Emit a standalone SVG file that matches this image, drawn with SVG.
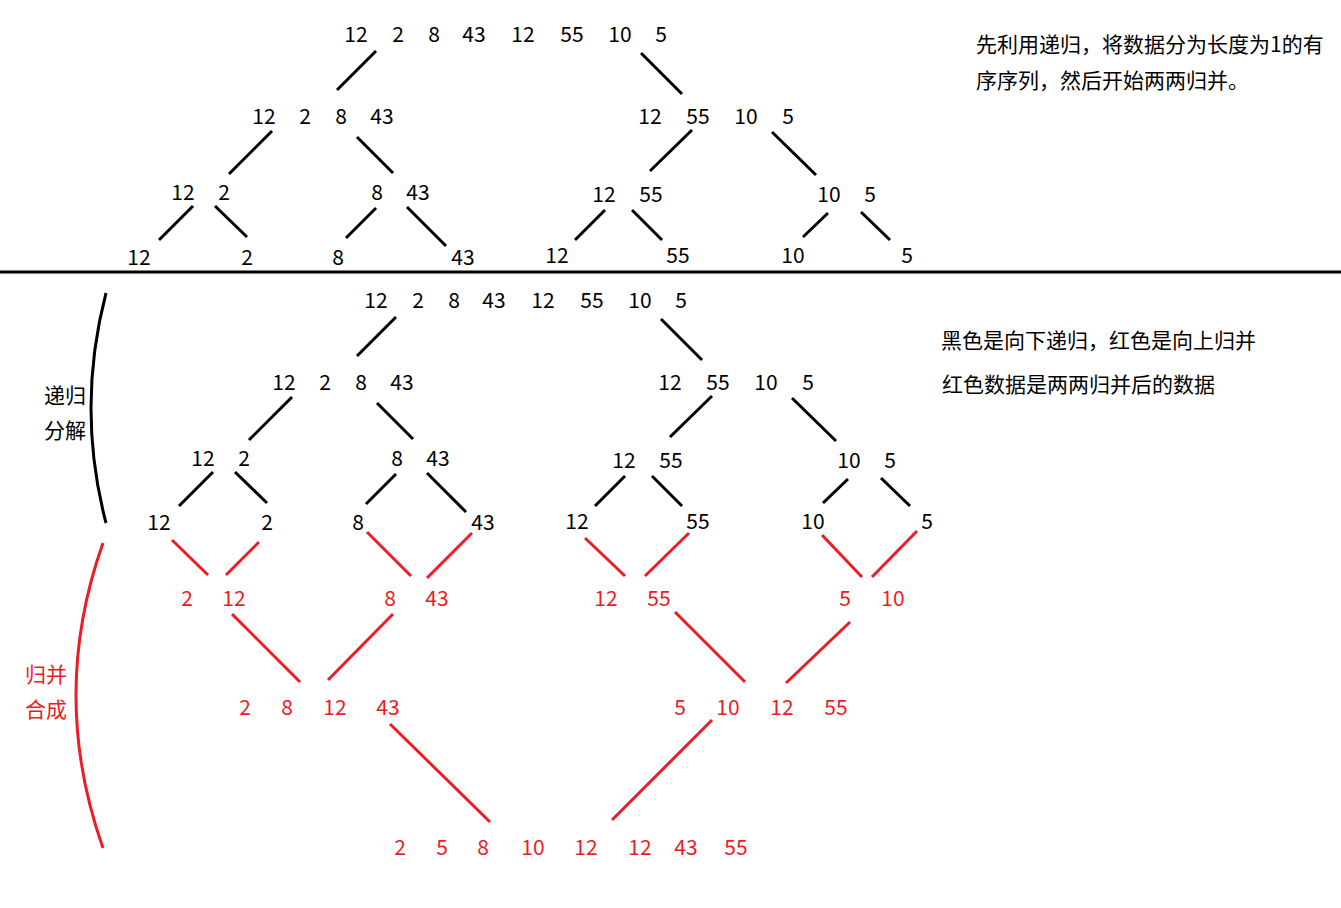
<svg xmlns="http://www.w3.org/2000/svg" width="1341" height="908" viewBox="0 0 1341 908">
<style>
text{font-family:"Noto Sans CJK SC","Noto Sans",sans-serif;font-size:21px}
.n text{text-anchor:middle}
.k{fill:#000}
.r{fill:#ED1C24}
.lk{stroke:#000;stroke-width:3;fill:none}
.lr{stroke:#ED1C24;stroke-width:3;fill:none}
</style>
<rect width="1341" height="908" fill="#fff"/>
<g id="connectors">
<line class="lk" x1="0" y1="272" x2="1341" y2="272"/>
<!-- top tree -->
<line class="lk" x1="376" y1="51" x2="337" y2="90"/>
<line class="lk" x1="641" y1="53" x2="682" y2="94"/>
<line class="lk" x1="272" y1="131" x2="229" y2="174"/>
<line class="lk" x1="357" y1="137" x2="393" y2="173"/>
<line class="lk" x1="692" y1="130" x2="650" y2="171"/>
<line class="lk" x1="772" y1="132" x2="816" y2="175"/>
<line class="lk" x1="193" y1="206" x2="159" y2="240"/>
<line class="lk" x1="215" y1="206" x2="247" y2="237"/>
<line class="lk" x1="376" y1="208" x2="346" y2="238"/>
<line class="lk" x1="407" y1="207" x2="446" y2="246"/>
<line class="lk" x1="605" y1="210" x2="575" y2="240"/>
<line class="lk" x1="632" y1="210" x2="662" y2="240"/>
<line class="lk" x1="828" y1="213" x2="803" y2="237"/>
<line class="lk" x1="861" y1="212" x2="890" y2="240"/>
<!-- lower black tree -->
<line class="lk" x1="396" y1="317" x2="357" y2="356"/>
<line class="lk" x1="661" y1="319" x2="702" y2="360"/>
<line class="lk" x1="292" y1="397" x2="249" y2="440"/>
<line class="lk" x1="377" y1="403" x2="413" y2="439"/>
<line class="lk" x1="712" y1="396" x2="670" y2="437"/>
<line class="lk" x1="792" y1="398" x2="836" y2="441"/>
<line class="lk" x1="213" y1="472" x2="179" y2="506"/>
<line class="lk" x1="235" y1="472" x2="267" y2="503"/>
<line class="lk" x1="396" y1="474" x2="366" y2="504"/>
<line class="lk" x1="427" y1="473" x2="466" y2="512"/>
<line class="lk" x1="625" y1="476" x2="595" y2="506"/>
<line class="lk" x1="652" y1="476" x2="682" y2="506"/>
<line class="lk" x1="848" y1="479" x2="823" y2="503"/>
<line class="lk" x1="881" y1="478" x2="910" y2="506"/>
<!-- red merge -->
<line class="lr" x1="172" y1="540" x2="208" y2="575"/>
<line class="lr" x1="259" y1="542" x2="226" y2="575"/>
<line class="lr" x1="367" y1="532" x2="411" y2="576"/>
<line class="lr" x1="472" y1="533" x2="427" y2="578"/>
<line class="lr" x1="585" y1="538" x2="625" y2="576"/>
<line class="lr" x1="689" y1="533" x2="645" y2="576"/>
<line class="lr" x1="822" y1="535" x2="862" y2="577"/>
<line class="lr" x1="917" y1="531" x2="872" y2="577"/>
<line class="lr" x1="232" y1="614" x2="300" y2="682"/>
<line class="lr" x1="393" y1="614" x2="328" y2="680"/>
<line class="lr" x1="675" y1="612" x2="745" y2="682"/>
<line class="lr" x1="850" y1="622" x2="786" y2="683"/>
<line class="lr" x1="390" y1="724" x2="490" y2="822"/>
<line class="lr" x1="712" y1="720" x2="612" y2="820"/>
<!-- braces -->
<path class="lk" d="M106,293 Q76,408 106,523"/>
<path class="lr" d="M103,543 Q49,695 103,848"/>
</g>
<g id="top-l1" class="n k"><text x="356" y="42">12</text><text x="398" y="42">2</text><text x="434" y="42">8</text><text x="474" y="42">43</text><text x="523" y="42">12</text><text x="572" y="42">55</text><text x="620" y="42">10</text><text x="661" y="42">5</text></g>
<g id="top-l2a" class="n k"><text x="264" y="124">12</text><text x="305" y="124">2</text><text x="341" y="124">8</text><text x="382" y="124">43</text></g>
<g id="top-l2b" class="n k"><text x="650" y="124">12</text><text x="698" y="124">55</text><text x="746" y="124">10</text><text x="788" y="124">5</text></g>
<g id="top-l3" class="n k"><text x="183" y="200">12</text><text x="224" y="200">2</text><text x="377" y="200">8</text><text x="418" y="200">43</text><text x="604" y="202">12</text><text x="651" y="202">55</text><text x="829" y="202">10</text><text x="870" y="202">5</text></g>
<g id="top-l4" class="n k"><text x="139" y="265">12</text><text x="247" y="265">2</text><text x="338" y="265">8</text><text x="463" y="265">43</text><text x="557" y="263">12</text><text x="678" y="263">55</text><text x="793" y="263">10</text><text x="907" y="263">5</text></g>
<g id="note1" class="k"><text x="976" y="52">先利用递归，将数据分为长度为1的有</text><text x="976" y="88">序序列，然后开始两两归并。</text></g>
<g id="low-l1" class="n k"><text x="376" y="308">12</text><text x="418" y="308">2</text><text x="454" y="308">8</text><text x="494" y="308">43</text><text x="543" y="308">12</text><text x="592" y="308">55</text><text x="640" y="308">10</text><text x="681" y="308">5</text></g>
<g id="low-l2a" class="n k"><text x="284" y="390">12</text><text x="325" y="390">2</text><text x="361" y="390">8</text><text x="402" y="390">43</text></g>
<g id="low-l2b" class="n k"><text x="670" y="390">12</text><text x="718" y="390">55</text><text x="766" y="390">10</text><text x="808" y="390">5</text></g>
<g id="low-l3" class="n k"><text x="203" y="466">12</text><text x="244" y="466">2</text><text x="397" y="466">8</text><text x="438" y="466">43</text><text x="624" y="468">12</text><text x="671" y="468">55</text><text x="849" y="468">10</text><text x="890" y="468">5</text></g>
<g id="low-l4" class="n k"><text x="159" y="530">12</text><text x="267" y="530">2</text><text x="358" y="530">8</text><text x="483" y="530">43</text><text x="577" y="529">12</text><text x="698" y="529">55</text><text x="813" y="529">10</text><text x="927" y="529">5</text></g>
<g id="note2" class="k"><text x="941" y="348">黑色是向下递归，红色是向上归并</text><text x="942" y="392">红色数据是两两归并后的数据</text></g>
<g id="label-split" class="k"><text x="44" y="403">递归</text><text x="44" y="438">分解</text></g>
<g id="label-merge" class="r"><text x="25" y="682">归并</text><text x="25" y="717">合成</text></g>
<g id="merge-l1" class="n r"><text x="187" y="606">2</text><text x="234" y="606">12</text><text x="390" y="606">8</text><text x="437" y="606">43</text><text x="606" y="606">12</text><text x="659" y="606">55</text><text x="845" y="606">5</text><text x="893" y="606">10</text></g>
<g id="merge-l2a" class="n r"><text x="245" y="715">2</text><text x="287" y="715">8</text><text x="335" y="715">12</text><text x="388" y="715">43</text></g>
<g id="merge-l2b" class="n r"><text x="680" y="715">5</text><text x="728" y="715">10</text><text x="782" y="715">12</text><text x="836" y="715">55</text></g>
<g id="merge-l3" class="n r"><text x="400" y="855">2</text><text x="442" y="855">5</text><text x="483" y="855">8</text><text x="533" y="855">10</text><text x="586" y="855">12</text><text x="640" y="855">12</text><text x="686" y="855">43</text><text x="736" y="855">55</text></g>
</svg>
